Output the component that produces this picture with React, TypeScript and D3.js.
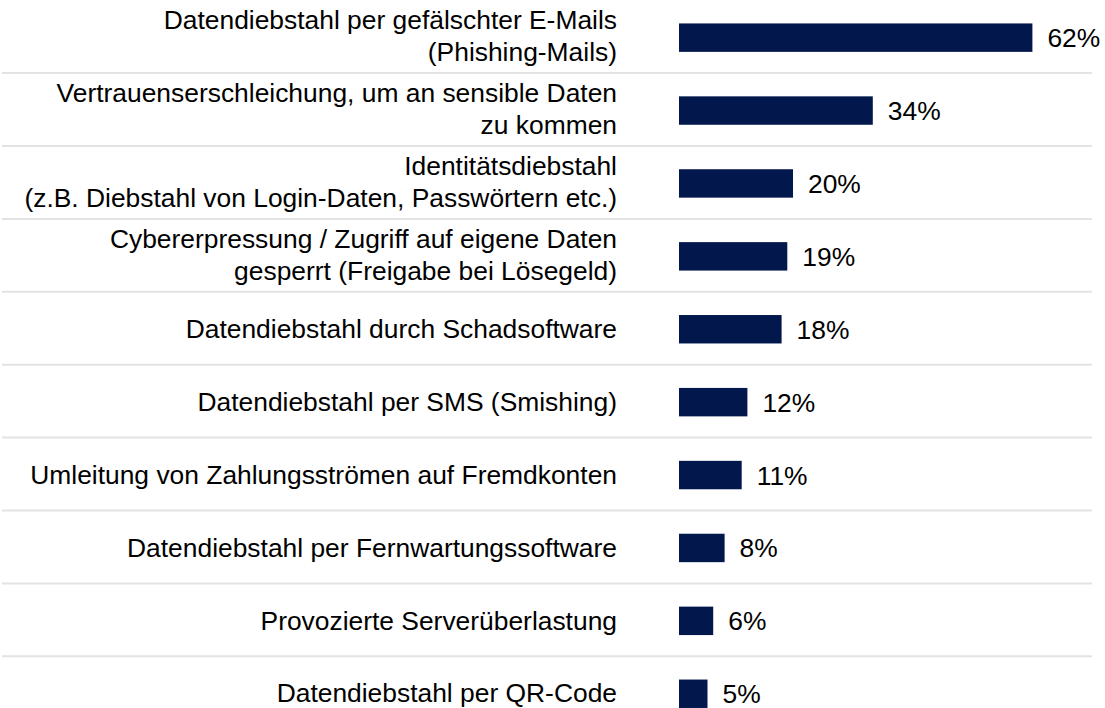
import React from "react";
import * as d3 from "d3";

const categories: string[] = [
  "Datendiebstahl per gefälschter E-Mails\n(Phishing-Mails)",
  "Vertrauenserschleichung, um an sensible Daten\nzu kommen",
  "Identitätsdiebstahl\n(z.B. Diebstahl von Login-Daten, Passwörtern etc.)",
  "Cybererpressung / Zugriff auf eigene Daten\ngesperrt (Freigabe bei Lösegeld)",
  "Datendiebstahl durch Schadsoftware",
  "Datendiebstahl per SMS (Smishing)",
  "Umleitung von Zahlungsströmen auf Fremdkonten",
  "Datendiebstahl per Fernwartungssoftware",
  "Provozierte Serverüberlastung",
  "Datendiebstahl per QR-Code",
];

const values: number[] = [62, 34, 20, 19, 18, 12, 11, 8, 6, 5];

const W = 1105;
const H = 708;
const BAR_COLOR = "#02184d";
const FONT = "'Liberation Sans', Arial, Helvetica, sans-serif";

export default function App() {
  const step = 72.9;
  const top = 1.2;
  const y = d3
    .scaleBand<string>()
    .domain(categories)
    .range([top, top + step * categories.length])
    .paddingInner(0.61)
    .paddingOuter(0.305);
  const x = d3.scaleLinear().domain([0, 100]).range([679, 1249]);
  const bw = y.bandwidth();
  const fs = 26.4;

  return (
    <svg
      width={W}
      height={H}
      style={{ position: "absolute", left: 0, top: 0, background: "#ffffff" }}
      fontFamily={FONT}
    >
      {categories.slice(0, -1).map((c) => {
        const cy = (y(c) as number) + bw / 2 + step / 2 - 1;
        return (
          <line key={"sep" + c} x1={2} x2={1092} y1={cy} y2={cy} stroke="#e3e3e3" strokeWidth={2} />
        );
      })}
      {categories.map((c, i) => {
        const cy = (y(c) as number) + bw / 2;
        const lines = c.split("\n");
        const baselines = lines.length === 1 ? [cy + 8.7] : [cy - 8.5, cy + 23.3];
        return (
          <g key={c}>
            <text textAnchor="end" fontSize={fs} fill="#000">
              {lines.map((l, j) => (
                <tspan key={j} x={617} y={baselines[j]}>
                  {l}
                </tspan>
              ))}
            </text>
            <rect
              x={x(0)}
              y={y(c)}
              width={x(values[i]) - x(0)}
              height={bw}
              fill={BAR_COLOR}
            />
            <text x={x(values[i]) + 15} y={cy + 9.5} fontSize={fs} fill="#000">
              {values[i]}%
            </text>
          </g>
        );
      })}
    </svg>
  );
}
